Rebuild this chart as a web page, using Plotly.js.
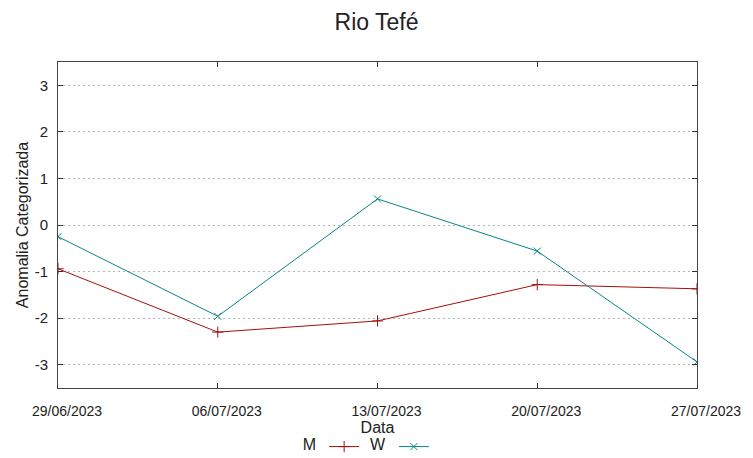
<!DOCTYPE html>
<html>
<head>
<meta charset="utf-8">
<script src="https://cdn.plot.ly/plotly-3.0.1.min.js"></script>
<style>html,body{margin:0;padding:0;background:#fff;}#chart{width:753px;height:458px;}</style>
</head>
<body>
<div id="chart"></div>
<script>
const dates = ["29/06/2023", "06/07/2023", "13/07/2023", "20/07/2023", "27/07/2023"];
const seriesM = [-0.94, -2.30, -2.06, -1.28, -1.37];
const seriesW = [-0.25, -1.96, 0.56, -0.56, -2.94];
const yTicks = [-3, -2, -1, 0, 1, 2, 3];
const yTickText = ["-3", "-2", "-1", "0", "1", "2", "3"];

const colorM = "#a50f0f";
const colorW = "#0a8585";

const traces = [
  {
    x: dates, y: seriesM, type: "scatter", mode: "lines+markers", name: "",
    line: {color: colorM, width: 1},
    marker: {symbol: "cross-thin", size: 8, line: {color: colorM, width: 1}, color: colorM},
    legend: "legend"
  },
  {
    x: dates, y: seriesW, type: "scatter", mode: "lines+markers", name: "",
    line: {color: colorW, width: 1},
    marker: {symbol: "x-thin", size: 7, line: {color: colorW, width: 1}, color: colorW},
    legend: "legend2"
  }
];

const layout = {
  width: 753, height: 458,
  margin: {l: 58, r: 56, t: 62, b: 70, autoexpand: false},
  paper_bgcolor: "#fff", plot_bgcolor: "#fff",
  font: {family: "Liberation Sans, Arial, sans-serif", color: "#222"},
  title: {text: "Rio Tefé", x: 0.5, xanchor: "center", y: 0.952, yanchor: "middle", font: {size: 23, color: "#222"}},
  xaxis: {
    type: "category", range: [0, 4], automargin: false,
    tickvals: dates, ticktext: dates,
    ticks: "inside", ticklen: 5, tickcolor: "#333",
    showline: true, linecolor: "#444", linewidth: 1, mirror: "ticks",
    showgrid: false, zeroline: false,
    tickfont: {family: "Liberation Sans, Arial, sans-serif", size: 14, color: "#222"},
    ticklabelshift: 9, ticklabelstandoff: 10,
    title: {text: "Data", font: {size: 16, color: "#222"}, standoff: 0}
  },
  yaxis: {
    range: [-3.5, 3.5], tickvals: yTicks, ticktext: yTickText, automargin: false,
    ticks: "inside", ticklen: 5, tickcolor: "#333",
    showline: true, linecolor: "#444", linewidth: 1, mirror: "ticks",
    showgrid: true, gridcolor: "#b5b5b5", griddash: "2px,3px", gridwidth: 1,
    zeroline: false,
    tickfont: {size: 15, color: "#222"},
    ticklabelstandoff: 6,
    title: {text: "Anomalia Categorizada", font: {size: 16, color: "#222"}, standoff: 2}
  },
  showlegend: true,
  legend: {
    orientation: "h", x: 0.38, xanchor: "left", y: -0.18, yanchor: "middle",
    title: {text: "M", side: "left", font: {size: 16, color: "#222"}},
    font: {size: 16}, bgcolor: "rgba(0,0,0,0)", borderwidth: 0
  },
  legend2: {
    orientation: "h", x: 0.485, xanchor: "left", y: -0.18, yanchor: "middle",
    title: {text: "W", side: "left", font: {size: 16, color: "#222"}},
    font: {size: 16}, bgcolor: "rgba(0,0,0,0)", borderwidth: 0
  }
};

Plotly.newPlot("chart", traces, layout, {displayModeBar: false, staticPlot: true});
</script>
</body>
</html>
